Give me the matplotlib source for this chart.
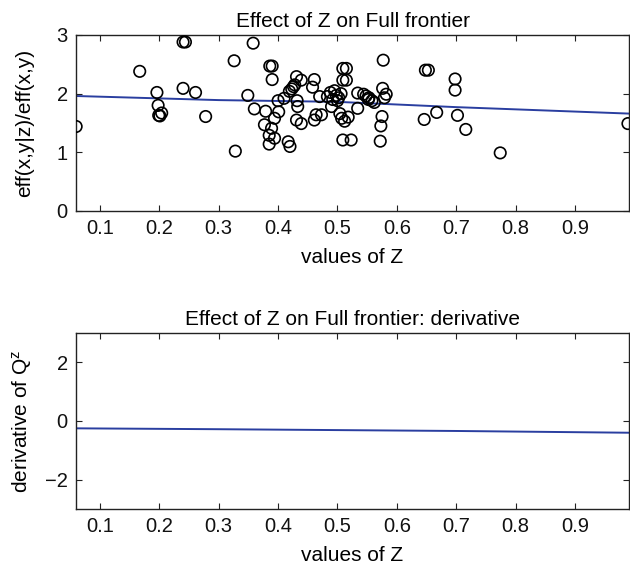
import matplotlib
matplotlib.use("Agg")
import matplotlib.pyplot as plt

plt.rcParams['font.family'] = ['Liberation Sans', 'DejaVu Sans']
plt.rcParams['mathtext.fontset'] = 'custom'
plt.rcParams['mathtext.rm'] = 'Liberation Sans'
plt.rcParams['mathtext.it'] = 'Liberation Sans'

# scatter data: values of Z and eff(x,y|z)/eff(x,y)
z_pts = [0.060, 0.167, 0.196, 0.198, 0.199, 0.201, 0.204, 0.240, 0.244, 0.240,
         0.261, 0.278, 0.326, 0.328, 0.358, 0.349, 0.360, 0.379, 0.386, 0.390,
         0.390, 0.377, 0.389, 0.394, 0.385, 0.394, 0.385, 0.401, 0.400, 0.417,
         0.420, 0.419, 0.423, 0.426, 0.428, 0.431, 0.439, 0.433, 0.432, 0.431,
         0.439, 0.461, 0.458, 0.464, 0.473, 0.461, 0.483, 0.488, 0.492, 0.495,
         0.498, 0.502, 0.506, 0.490, 0.509, 0.515, 0.509, 0.515, 0.504, 0.507,
         0.512, 0.518, 0.509, 0.523, 0.534, 0.534, 0.544, 0.548, 0.553, 0.558,
         0.562, 0.552, 0.576, 0.582, 0.579, 0.577, 0.575, 0.573, 0.572, 0.648,
         0.653, 0.646, 0.667, 0.698, 0.698, 0.702, 0.716, 0.774, 0.989, 0.410,
         0.470, 0.500]
ratio_pts = [1.44, 2.38, 2.02, 1.80, 1.63, 1.62, 1.67, 2.88, 2.88, 2.09,
             2.02, 1.61, 2.56, 1.02, 2.86, 1.97, 1.74, 1.70, 2.47, 2.47,
             2.24, 1.47, 1.41, 1.58, 1.29, 1.24, 1.14, 1.69, 1.88, 1.18,
             1.10, 2.04, 2.08, 2.12, 2.15, 2.29, 2.23, 1.78, 1.88, 1.55,
             1.49, 2.24, 2.11, 1.64, 1.64, 1.55, 1.95, 2.02, 1.90, 2.05,
             1.97, 1.93, 2.00, 1.78, 2.43, 2.43, 2.23, 2.23, 1.66, 1.58,
             1.53, 1.60, 1.21, 1.21, 2.01, 1.75, 1.99, 1.96, 1.93, 1.88,
             1.85, 1.90, 2.09, 1.99, 1.93, 2.57, 1.61, 1.45, 1.19, 2.40,
             2.40, 1.56, 1.68, 2.25, 2.06, 1.63, 1.39, 0.99, 1.49, 1.92,
             1.95, 1.88]

# fitted curve and its derivative
z_line = [0.0597, 0.30, 0.50, 0.70, 0.991]
effect_line = [1.96, 1.89, 1.86, 1.77, 1.66]
deriv_line = [-0.25, -0.28, -0.31, -0.34, -0.40]

xticks = [0.1, 0.2, 0.3, 0.4, 0.5, 0.6, 0.7, 0.8, 0.9]
xlim = (0.0597, 0.991)

fig = plt.figure(figsize=(6.3, 5.64), dpi=100)
ax1 = fig.add_axes([0.1206, 0.6259, 0.878, 0.3121])
ax2 = fig.add_axes([0.1206, 0.0975, 0.878, 0.3121])

blue = '#2a3ea0'
FS = 15
TS = 14.5
ax1.scatter(z_pts, ratio_pts, s=68, facecolors='none', edgecolors='black',
            linewidths=1.2, clip_on=True, zorder=3)
ax1.plot(z_line, effect_line, color=blue, lw=1.4, zorder=2)
ax1.set_ylim(0, 3)
ax1.set_yticks([0, 1, 2, 3])
ax1.set_title('Effect of Z on Full frontier', fontsize=FS, pad=6)
ax1.set_ylabel('eff(x,y|z)/eff(x,y)', fontsize=FS, labelpad=16)

ax2.plot(z_line, deriv_line, color=blue, lw=1.4)
ax2.set_ylim(-3, 3)
ax2.set_yticks([-2, 0, 2])
ax2.set_title('Effect of Z on Full frontier: derivative', fontsize=FS, pad=6)
ax2.set_ylabel(r'derivative of Q$^{\mathregular{z}}$', fontsize=FS, labelpad=8)

for ax in (ax1, ax2):
    ax.set_xlim(*xlim)
    ax.set_xticks(xticks)
    ax.set_xticklabels([f'{t:g}' for t in xticks])
    ax.set_xlabel('values of Z', fontsize=FS, labelpad=7)
    ax.tick_params(direction='in', top=True, right=True, labelsize=TS,
                   length=4, width=0.8, pad=6, colors='#222222',
                   labelcolor='#111111')
    for sp in ax.spines.values():
        sp.set_linewidth(1.0)
        sp.set_color('#222222')

fig.savefig('out.png', dpi=100)
